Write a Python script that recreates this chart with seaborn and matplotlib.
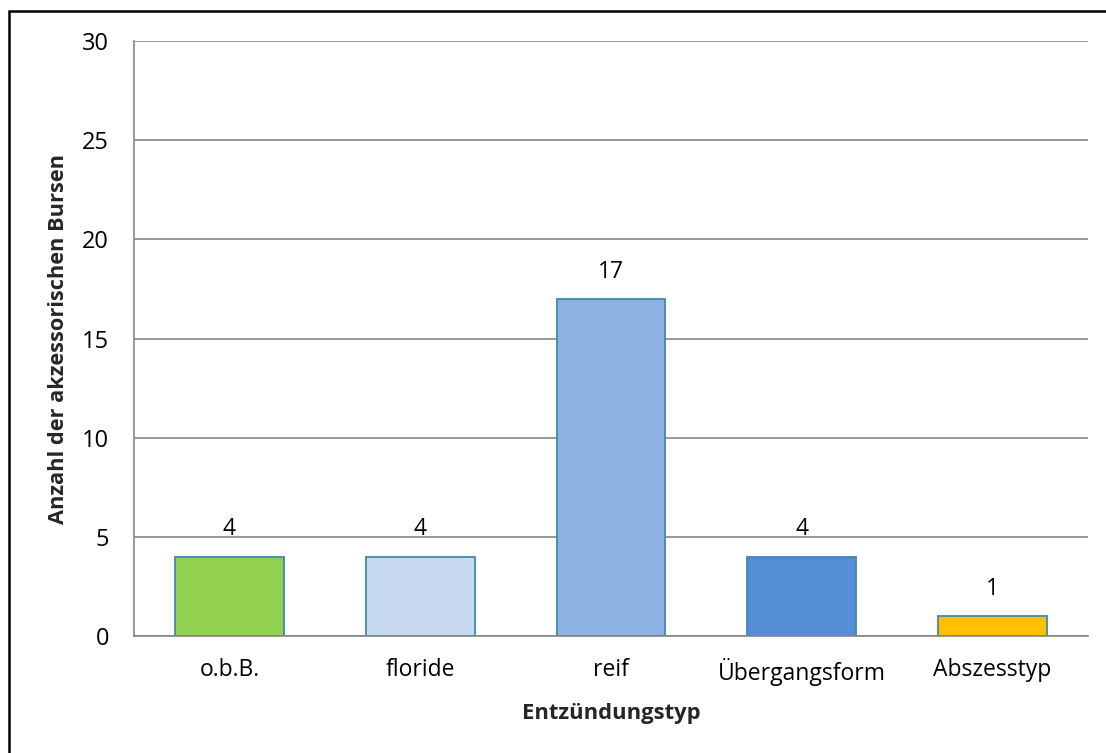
import matplotlib
matplotlib.use("Agg")
import matplotlib.pyplot as plt
import seaborn as sns
import pandas as pd
from matplotlib.patches import Rectangle

# Entzündungstypen und Anzahl der akzessorischen Bursen
categories = ["o.b.B.", "floride", "reif", "Übergangsform", "Abszesstyp"]
counts = [4, 4, 17, 4, 1]
bar_colors = ["#92D050", "#C6D9F1", "#8DB3E2", "#558ED5", "#FFC000"]
y_ticks = [0, 5, 10, 15, 20, 25, 30]

sns.set_theme(style="white")
plt.rcParams["font.family"] = ["Open Sans", "DejaVu Sans"]

df = pd.DataFrame({"typ": categories, "anzahl": counts})

fig = plt.figure(figsize=(11.06, 7.53), dpi=100)
ax = fig.add_axes([134 / 1106, 1 - 636 / 753, (1088 - 134) / 1106, (636 - 41) / 753])

sns.barplot(data=df, x="typ", y="anzahl", hue="typ", palette=bar_colors,
            order=categories, hue_order=categories, legend=False,
            width=0.57, edgecolor="#3F8AAB", linewidth=1.3, saturation=1, ax=ax)

for cont in ax.containers:
    ax.bar_label(cont, labels=[f"{int(v)}" for v in cont.datavalues],
                 padding=11, fontsize=16.5, color="black")

ax.set_ylim(0, 30)
ax.set_yticks(y_ticks)
ax.set_xlim(-0.5, len(categories) - 0.5)
ax.yaxis.grid(True, color="#868686", linewidth=1.2)
ax.set_axisbelow(True)
for side in ["top", "right"]:
    ax.spines[side].set_visible(False)
for side in ["left", "bottom"]:
    ax.spines[side].set_color("#868686")
    ax.spines[side].set_linewidth(1.2)

ax.tick_params(axis="y", length=0, pad=18, labelsize=17, colors="black")
ax.tick_params(axis="x", length=0, pad=16, labelsize=16.5, colors="black")

ax.set_xlabel("Entzündungstyp", fontsize=15.8, fontweight="bold", labelpad=12)
ax.set_ylabel("Anzahl der akzessorischen Bursen", fontsize=15.7, fontweight="bold", labelpad=9)

# Rahmen um das Diagramm
fig.patches.append(Rectangle((8.5 / 1106, -0.05), 1.2, 1 - 11.5 / 753 + 0.05,
                             transform=fig.transFigure, fill=False,
                             edgecolor="black", linewidth=1.8))

fig.savefig("out.png", dpi=100)
